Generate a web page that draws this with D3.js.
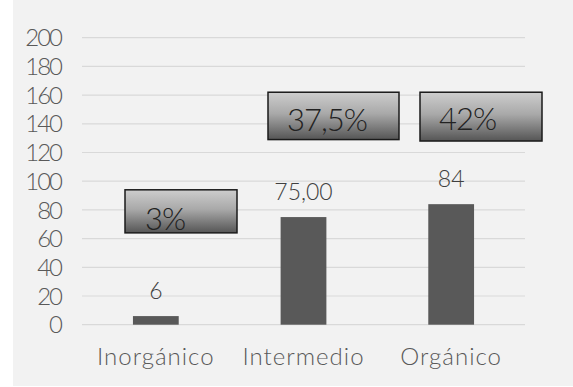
<!DOCTYPE html>
<html>
<head>
<meta charset="utf-8">
<script src="https://cdn.jsdelivr.net/npm/d3@7"></script>
<style>
  html, body { margin: 0; padding: 0; background: #ffffff; }
  svg { display: block; }
  text { font-family: "Lato", "DejaVu Sans", sans-serif; font-weight: 300; }
</style>
</head>
<body>
<svg id="chart" width="573" height="387"></svg>
<script>
// Soil type categories and their counts
const categories = ["Inorgánico", "Intermedio", "Orgánico"];
const values = [6, 75, 84];
const valueLabels = ["6", "75,00", "84"];
// Share of each category, shown in the shaded callout boxes
const shareLabels = ["3%", "37,5%", "42%"];
const shareBoxTop = [94, 162, 162];
const shareBoxBottom = [64, 129, 128];
const yTicks = [0, 20, 40, 60, 80, 100, 120, 140, 160, 180, 200];

const W = 573, H = 387;
const margin = { left: 82, right: 48, top: 38, bottom: 62 };

const svg = d3.select("#chart");

// Panel background
svg.append("rect").attr("x", 13).attr("y", 0).attr("width", W - 13).attr("height", 386)
  .attr("fill", "#f2f2f2");

const x = d3.scaleBand().domain(categories)
  .range([margin.left, W - margin.right]).paddingInner(0.69).paddingOuter(0.345);
const y = d3.scaleLinear().domain([0, 200]).range([324.7, 37.7]);

const defs = svg.append("defs");
const grad = defs.append("linearGradient").attr("id", "boxGrad")
  .attr("x1", 0).attr("y1", 0).attr("x2", 0).attr("y2", 1);
grad.append("stop").attr("offset", "0%").attr("stop-color", "#cdcdcd");
grad.append("stop").attr("offset", "45%").attr("stop-color", "#a9a9a9");
grad.append("stop").attr("offset", "100%").attr("stop-color", "#555555");

// Gridlines
svg.append("g").selectAll("line").data(yTicks).join("line")
  .attr("x1", margin.left).attr("x2", 525)
  .attr("y1", d => y(d)).attr("y2", d => y(d))
  .attr("stroke", "#d9d9d9").attr("stroke-width", 1.2);

// Y axis tick labels
svg.append("g").selectAll("text").data(yTicks).join("text")
  .attr("x", 61).attr("y", d => y(d)).attr("dy", "0.36em")
  .attr("text-anchor", "end").attr("fill", "#595959")
  .attr("font-size", 24).attr("letter-spacing", -2)
  .text(d => d);

// Bars
svg.append("g").selectAll("rect").data(values).join("rect")
  .attr("x", (d, i) => x(categories[i]))
  .attr("width", x.bandwidth())
  .attr("y", d => y(d))
  .attr("height", d => y(0) - y(d))
  .attr("fill", "#595959");

// Value labels above bars
svg.append("g").selectAll("text").data(values).join("text")
  .attr("x", (d, i) => x(categories[i]) + x.bandwidth() / 2)
  .attr("y", d => y(d) - 17)
  .attr("text-anchor", "middle").attr("fill", "#404040")
  .attr("font-size", 23)
  .text((d, i) => valueLabels[i]);

// Category labels
svg.append("g").selectAll("text").data(categories).join("text")
  .attr("x", d => x(d) + x.bandwidth() / 2)
  .attr("y", 365)
  .attr("text-anchor", "middle").attr("fill", "#595959")
  .attr("font-size", 24).attr("letter-spacing", 1)
  .text(d => d);

// Share callout boxes
const boxX = [125, 268, 420];
const boxW = [112, 131, 122];
const boxes = svg.append("g").selectAll("g").data(shareLabels).join("g");
boxes.append("rect")
  .attr("x", (d, i) => boxX[i]).attr("width", (d, i) => boxW[i])
  .attr("y", (d, i) => y(shareBoxTop[i]))
  .attr("height", (d, i) => y(shareBoxBottom[i]) - y(shareBoxTop[i]))
  .attr("fill", "url(#boxGrad)").attr("stroke", "#1a1a1a").attr("stroke-width", 1.5);
boxes.append("text")
  .attr("x", (d, i) => [145, 287, 439][i])
  .attr("y", (d, i) => y(shareBoxBottom[i]) - [3, 9, 11][i])
  .attr("fill", "#222222").attr("font-size", 31).attr("letter-spacing", -1)
  .text(d => d);
</script>
</body>
</html>
